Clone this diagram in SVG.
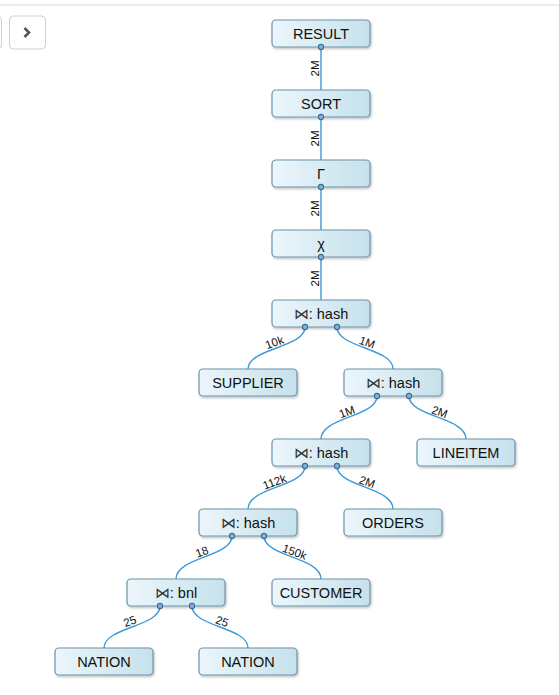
<svg xmlns="http://www.w3.org/2000/svg" width="559" height="695" viewBox="0 0 559 695">
<defs>
<linearGradient id="g" x1="0" y1="0" x2="1" y2="0">
<stop offset="0" stop-color="#ecf6fc"/>
<stop offset="1" stop-color="#c6e1eb"/>
</linearGradient>
<filter id="sh" x="-10%" y="-20%" width="125%" height="160%">
<feDropShadow dx="1" dy="1.5" stdDeviation="1" flood-color="#000" flood-opacity="0.25"/>
</filter>
</defs>
<style>
.box{fill:url(#g);stroke:#6b93ab;stroke-width:1.2;filter:url(#sh)}
.t{font-family:"Liberation Sans","DejaVu Sans",sans-serif;font-size:14.5px;fill:#111;text-anchor:middle}
.j{font-family:"DejaVu Sans",sans-serif;font-weight:300;fill:#333}
.e{fill:none;stroke:#3d9ad6;stroke-width:1.4}
.l{font-family:"Liberation Sans","DejaVu Sans",sans-serif;font-size:11.5px;fill:#111;text-anchor:middle}
.p{fill:#86b0d4;stroke:#3a6d9a;stroke-width:1.1}
</style>
<rect width="559" height="695" fill="#fff"/>
<line x1="0" y1="5" x2="559" y2="5" stroke="#d9d9d9" stroke-width="1.2"/>
<rect x="-30" y="16" width="31.5" height="33" rx="4" fill="#fff" stroke="#cfcfcf"/>
<rect x="9.5" y="16" width="36" height="33" rx="4" fill="#fff" stroke="#cfcfcf"/>
<path d="M24.5 28 L29 32.5 L24.5 37" fill="none" stroke="#555" stroke-width="2.6"/>

<g id="connectors">
<path class="e" d="M321 47V90"/>
<path class="e" d="M321 117V160"/>
<path class="e" d="M321 187V230"/>
<path class="e" d="M321 257V300"/>
<path class="e" d="M305 327C305 348 248 348 248 369"/>
<path class="e" d="M337 327C337 348 393 348 393 369"/>
<path class="e" d="M377 396C377 417 321 417 321 439"/>
<path class="e" d="M409 396C409 417 466 417 466 439"/>
<path class="e" d="M305 466C305 487 248 487 248 509"/>
<path class="e" d="M337 466C337 487 393 487 393 509"/>
<path class="e" d="M232 536C232 557 176 557 176 579"/>
<path class="e" d="M264 536C264 557 321 557 321 579"/>
<path class="e" d="M160 606C160 627 104 627 104 648"/>
<path class="e" d="M192 606C192 627 248 627 248 648"/>
<text class="l" transform="translate(321 68.5) rotate(-90)" dy="-2">2M</text>
<text class="l" transform="translate(321 138.5) rotate(-90)" dy="-2">2M</text>
<text class="l" transform="translate(321 208.5) rotate(-90)" dy="-2">2M</text>
<text class="l" transform="translate(321 278.5) rotate(-90)" dy="-2">2M</text>
<text class="l" transform="translate(276.5 348) rotate(-20)" dy="-2">10k</text>
<text class="l" transform="translate(365 348) rotate(20)" dy="-2">1M</text>
<text class="l" transform="translate(349 417.5) rotate(-20)" dy="-2">1M</text>
<text class="l" transform="translate(437.5 417.5) rotate(20)" dy="-2">2M</text>
<text class="l" transform="translate(276.5 487.5) rotate(-20)" dy="-2">112k</text>
<text class="l" transform="translate(365 487.5) rotate(20)" dy="-2">2M</text>
<text class="l" transform="translate(204 557.5) rotate(-20)" dy="-2">18</text>
<text class="l" transform="translate(292.5 557.5) rotate(20)" dy="-2">150k</text>
<text class="l" transform="translate(132 627) rotate(-20)" dy="-2">25</text>
<text class="l" transform="translate(220 627) rotate(20)" dy="-2">25</text>
</g>

<g id="n-result"><rect class="box" x="272" y="20" width="98" height="27" rx="4"/><text class="t" x="321" y="38.5">RESULT</text></g>
<g id="n-sort"><rect class="box" x="272" y="90" width="98" height="27" rx="4"/><text class="t" x="321" y="108.5">SORT</text></g>
<g id="n-gamma"><rect class="box" x="272" y="160" width="98" height="27" rx="4"/><text class="t" x="321" y="178.5">Γ</text></g>
<g id="n-chi"><rect class="box" x="272" y="230" width="98" height="27" rx="4"/><text class="t" x="321" y="248.5">χ</text></g>
<g id="n-hash1"><rect class="box" x="272" y="300" width="98" height="27" rx="4"/><text class="t" x="321" y="318.5"><tspan class="j">⋈</tspan>: hash</text></g>
<g id="n-supplier"><rect class="box" x="199" y="369" width="98" height="27" rx="4"/><text class="t" x="248" y="387.5">SUPPLIER</text></g>
<g id="n-hash2"><rect class="box" x="344" y="369" width="98" height="27" rx="4"/><text class="t" x="393" y="387.5"><tspan class="j">⋈</tspan>: hash</text></g>
<g id="n-hash3"><rect class="box" x="272" y="439" width="98" height="27" rx="4"/><text class="t" x="321" y="457.5"><tspan class="j">⋈</tspan>: hash</text></g>
<g id="n-lineitem"><rect class="box" x="417" y="439" width="98" height="27" rx="4"/><text class="t" x="466" y="457.5">LINEITEM</text></g>
<g id="n-hash4"><rect class="box" x="199" y="509" width="98" height="27" rx="4"/><text class="t" x="248" y="527.5"><tspan class="j">⋈</tspan>: hash</text></g>
<g id="n-orders"><rect class="box" x="344" y="509" width="98" height="27" rx="4"/><text class="t" x="393" y="527.5">ORDERS</text></g>
<g id="n-bnl"><rect class="box" x="127" y="579" width="98" height="27" rx="4"/><text class="t" x="176" y="597.5"><tspan class="j">⋈</tspan>: bnl</text></g>
<g id="n-customer"><rect class="box" x="272" y="579" width="98" height="27" rx="4"/><text class="t" x="321" y="597.5">CUSTOMER</text></g>
<g id="n-nation1"><rect class="box" x="55" y="648" width="98" height="27" rx="4"/><text class="t" x="104" y="666.5">NATION</text></g>
<g id="n-nation2"><rect class="box" x="199" y="648" width="98" height="27" rx="4"/><text class="t" x="248" y="666.5">NATION</text></g>

<g id="ports">
<circle class="p" cx="321" cy="47" r="2.6"/>
<circle class="p" cx="321" cy="117" r="2.6"/>
<circle class="p" cx="321" cy="187" r="2.6"/>
<circle class="p" cx="321" cy="257" r="2.6"/>
<circle class="p" cx="305" cy="327" r="2.6"/>
<circle class="p" cx="337" cy="327" r="2.6"/>
<circle class="p" cx="377" cy="396" r="2.6"/>
<circle class="p" cx="409" cy="396" r="2.6"/>
<circle class="p" cx="305" cy="466" r="2.6"/>
<circle class="p" cx="337" cy="466" r="2.6"/>
<circle class="p" cx="232" cy="536" r="2.6"/>
<circle class="p" cx="264" cy="536" r="2.6"/>
<circle class="p" cx="160" cy="606" r="2.6"/>
<circle class="p" cx="192" cy="606" r="2.6"/>
</g>
</svg>
